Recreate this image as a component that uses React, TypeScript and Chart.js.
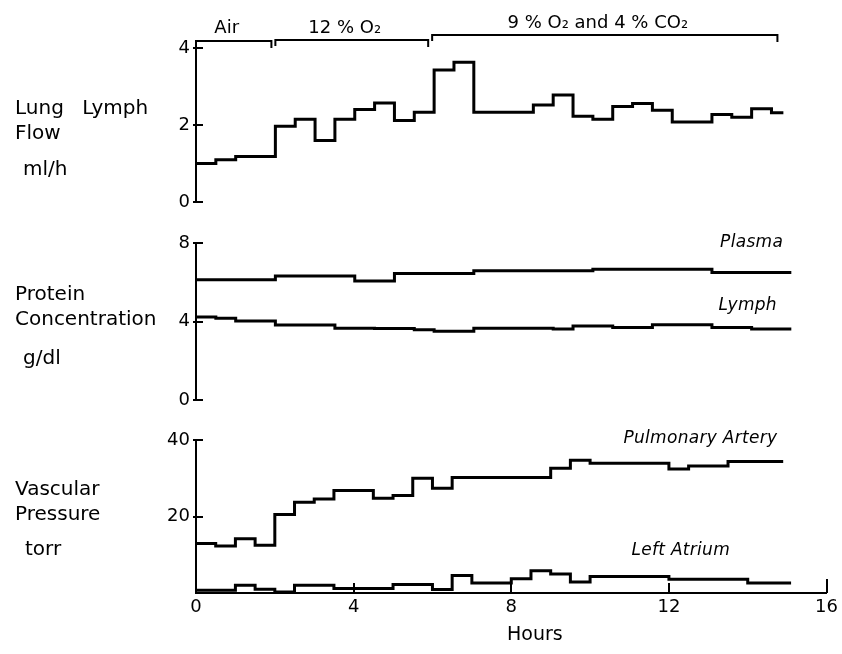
import React, { useEffect, useRef } from 'react';
import { Chart, registerables } from 'chart.js';
Chart.register(...registerables);

const FONT = '"DejaVu Sans", sans-serif';
const INK = '#000';

// ---- data ----
const hourTicks = [0, 4, 8, 12, 16];

// Lung lymph flow (ml/h): step start times (h) and values
const flowTimes = [0, 0.5, 1, 2, 2.5, 3, 3.5, 4, 4.5, 5, 5.5, 6, 6.5, 7, 8.5, 9, 9.5, 10, 10.5, 11, 11.5, 12, 13, 13.5, 14, 14.5];
const flowValues = [1.0, 1.1, 1.18, 1.97, 2.15, 1.6, 2.15, 2.4, 2.57, 2.12, 2.33, 3.43, 3.63, 2.33, 2.52, 2.78, 2.23, 2.15, 2.48, 2.56, 2.38, 2.08, 2.27, 2.2, 2.42, 2.32];
const flowEnd = 14.8;
const flowTicks = [0, 2, 4];

// Protein concentration (g/dl)
const plasmaTimes = [0, 2, 4, 5, 7, 10, 13];
const plasmaValues = [6.13, 6.32, 6.06, 6.44, 6.58, 6.66, 6.5];
const plasmaEnd = 15;
const lymphTimes = [0, 0.5, 1, 2, 3.5, 4.5, 5.5, 6, 7, 9, 9.5, 10.5, 11.5, 13, 14];
const lymphValues = [4.23, 4.16, 4.02, 3.82, 3.66, 3.64, 3.58, 3.5, 3.65, 3.62, 3.77, 3.7, 3.83, 3.7, 3.62];
const lymphEnd = 15;
const proteinTicks = [0, 4, 8];

// Vascular pressure (torr)
const paTimes = [0, 0.5, 1, 1.5, 2, 2.5, 3, 3.5, 4.5, 5, 5.5, 6, 6.5, 9, 9.5, 10, 12, 12.5, 13.5];
const paValues = [12.95, 12.3, 14.2, 12.5, 20.5, 23.7, 24.6, 26.8, 24.8, 25.5, 30, 27.4, 30.2, 32.6, 34.7, 33.9, 32.4, 33.2, 34.4];
const paEnd = 14.9;
const laTimes = [0, 1, 1.5, 2, 2.5, 3.5, 5, 6, 6.5, 7, 8, 8.5, 9, 9.5, 10, 12, 14];
const laValues = [0.7, 2.0, 1.0, 0.26, 2.0, 1.2, 2.2, 0.9, 4.6, 2.6, 3.7, 5.8, 5.0, 2.85, 4.3, 3.6, 2.6];
const laEnd = 15.1;
const pressureTicks = [20, 40];

// Gas phases
const phaseLabels = ['Air', '12 % O\u2082', '9 % O\u2082 and 4 % CO\u2082'];
const phaseStart = [0, 2, 5.95];
const phaseEnd = [1.9, 5.85, 14.65];

type Series = { times: number[]; values: number[]; end: number };
type Note = { text: string; x: number; y: number };

function steps(s: Series) {
  const pts = s.times.map((t, i) => ({ x: t, y: s.values[i] }));
  pts.push({ x: s.end, y: s.values[s.values.length - 1] });
  return pts;
}

interface PanelProps {
  top: number;
  height: number;
  padTop: number;
  padBottom: number;
  yMax: number;
  yTicks: number[];
  series: Series[];
  notes?: Note[];
  brackets?: boolean;
  showX?: boolean;
}

function Panel(p: PanelProps) {
  const ref = useRef<HTMLCanvasElement>(null);
  useEffect(() => {
    const decor = {
      id: 'decor',
      afterDraw(chart: any) {
        const { ctx, chartArea, scales } = chart;
        const xs = scales.x;
        const ys = scales.y;
        ctx.save();
        ctx.strokeStyle = INK;
        ctx.fillStyle = INK;
        ctx.lineWidth = 2;
        // inward y ticks
        p.yTicks.forEach((v) => {
          const py = Math.round(ys.getPixelForValue(v));
          ctx.beginPath();
          ctx.moveTo(chartArea.left - 3, py);
          ctx.lineTo(chartArea.left + 7, py);
          ctx.stroke();
        });
        {
          const py = Math.round(ys.getPixelForValue(0));
          ctx.beginPath();
          ctx.moveTo(chartArea.left, py);
          ctx.lineTo(chartArea.left + 7, py);
          ctx.stroke();
        }
        // inward x ticks
        if (p.showX) {
          hourTicks.forEach((v) => {
            if (v === 0) return;
            const px = Math.round(xs.getPixelForValue(v));
            ctx.beginPath();
            ctx.moveTo(px, chartArea.bottom);
            ctx.lineTo(px, chartArea.bottom - (v === 16 ? 14 : 10));
            ctx.stroke();
          });
          ctx.font = `19px ${FONT}`;
          ctx.textAlign = 'center';
          ctx.textBaseline = 'middle';
          ctx.fillText('Hours', xs.getPixelForValue(8.6), chartArea.bottom + 42);
        }
        // phase brackets
        if (p.brackets) {
          const lifts = [7, 8, 13];
          const textLift = [20, 20, 25];
          ctx.lineWidth = 2;
          phaseLabels.forEach((lab, i) => {
            const x0 = xs.getPixelForValue(phaseStart[i]);
            const x1 = xs.getPixelForValue(phaseEnd[i]);
            const by = chartArea.top - lifts[i];
            ctx.beginPath();
            ctx.moveTo(x0, by + 6);
            ctx.lineTo(x0, by);
            ctx.lineTo(x1, by);
            ctx.lineTo(x1, by + 7);
            ctx.stroke();
            ctx.font = `18px ${FONT}`;
            ctx.textAlign = 'center';
            ctx.textBaseline = 'middle';
            ctx.fillText(lab, (x0 + x1) / 2 - 7, chartArea.top - textLift[i]);
          });
        }
        // italic series notes
        (p.notes || []).forEach((n) => {
          ctx.font = `italic 17px ${FONT}`;
          (ctx as any).letterSpacing = '0.3px';
          ctx.textAlign = 'center';
          ctx.textBaseline = 'middle';
          ctx.fillText(n.text, xs.getPixelForValue(n.x), ys.getPixelForValue(n.y));
        });
        ctx.restore();
      },
    };
    const chart = new Chart(ref.current as HTMLCanvasElement, {
      type: 'line',
      data: {
        datasets: p.series.map((s) => ({
          data: steps(s),
          stepped: 'before',
          borderColor: INK,
          borderWidth: 3,
          pointRadius: 0,
          fill: false,
          clip: false,
        })),
      } as any,
      options: {
        animation: false,
        responsive: false,
        events: [],
        layout: { padding: { left: 0, right: 11, top: p.padTop, bottom: p.showX ? 0 : p.padBottom } },
        plugins: { legend: { display: false }, tooltip: { enabled: false } },
        scales: {
          x: {
            type: 'linear',
            min: 0,
            max: 16,
            display: !!p.showX,
            grid: { display: false, drawTicks: false },
            border: { display: true, color: INK, width: 2 },
            ticks: { color: INK, font: { family: FONT, size: 18 }, padding: 4, maxRotation: 0 },
            afterBuildTicks: (s: any) => {
              s.ticks = hourTicks.map((v) => ({ value: v }));
            },
            afterFit: (s: any) => {
              if (p.showX) s.height = p.padBottom;
            },
          },
          y: {
            type: 'linear',
            min: 0,
            max: p.yMax,
            grid: { display: false, drawTicks: false },
            border: { display: true, color: INK, width: 2 },
            ticks: { color: INK, font: { family: FONT, size: 18 }, padding: 6 },
            afterBuildTicks: (s: any) => {
              s.ticks = p.yTicks.map((v) => ({ value: v }));
            },
            afterFit: (s: any) => {
              s.width = 196;
            },
          },
        },
      } as any,
      plugins: [decor],
    });
    return () => chart.destroy();
  }, []);
  return (
    <canvas
      ref={ref}
      width={842}
      height={p.height}
      style={{ position: 'absolute', left: 0, top: p.top, width: 842, height: p.height }}
    />
  );
}

const sideText = (text: string, left: number, center: number) => (
  <div
    key={text}
    style={{
      position: 'absolute',
      left,
      top: center - 12,
      height: 24,
      lineHeight: '24px',
      fontFamily: FONT,
      fontSize: 20,
      wordSpacing: 12,
      color: INK,
      whiteSpace: 'nowrap',
    }}
  >
    {text}
  </div>
);

export default function App() {
  return (
    <div style={{ position: 'absolute', left: 0, top: 0, width: 842, height: 654, background: '#fff', overflow: 'hidden' }}>
      <Panel
        top={0}
        height={222}
        padTop={48}
        padBottom={20}
        yMax={4}
        yTicks={flowTicks}
        series={[{ times: flowTimes, values: flowValues, end: flowEnd }]}
        brackets
      />
      <Panel
        top={222}
        height={200}
        padTop={21}
        padBottom={22}
        yMax={8}
        yTicks={proteinTicks}
        series={[
          { times: plasmaTimes, values: plasmaValues, end: plasmaEnd },
          { times: lymphTimes, values: lymphValues, end: lymphEnd },
        ]}
        notes={[
          { text: 'Plasma', x: 14.0, y: 8.0 },
          { text: 'Lymph', x: 13.9, y: 4.8 },
        ]}
      />
      <Panel
        top={422}
        height={232}
        padTop={18}
        padBottom={61}
        yMax={40}
        yTicks={pressureTicks}
        series={[
          { times: paTimes, values: paValues, end: paEnd },
          { times: laTimes, values: laValues, end: laEnd },
        ]}
        notes={[
          { text: 'Pulmonary Artery', x: 12.8, y: 40.5 },
          { text: 'Left Atrium', x: 12.3, y: 11.2 },
        ]}
        showX
      />
      {sideText('Lung Lymph', 15, 107)}
      {sideText('Flow', 15, 132)}
      {sideText('ml/h', 23, 168)}
      {sideText('Protein', 15, 293)}
      {sideText('Concentration', 15, 318)}
      {sideText('g/dl', 23, 357)}
      {sideText('Vascular', 15, 488)}
      {sideText('Pressure', 15, 513)}
      {sideText('torr', 25, 548)}
    </div>
  );
}
